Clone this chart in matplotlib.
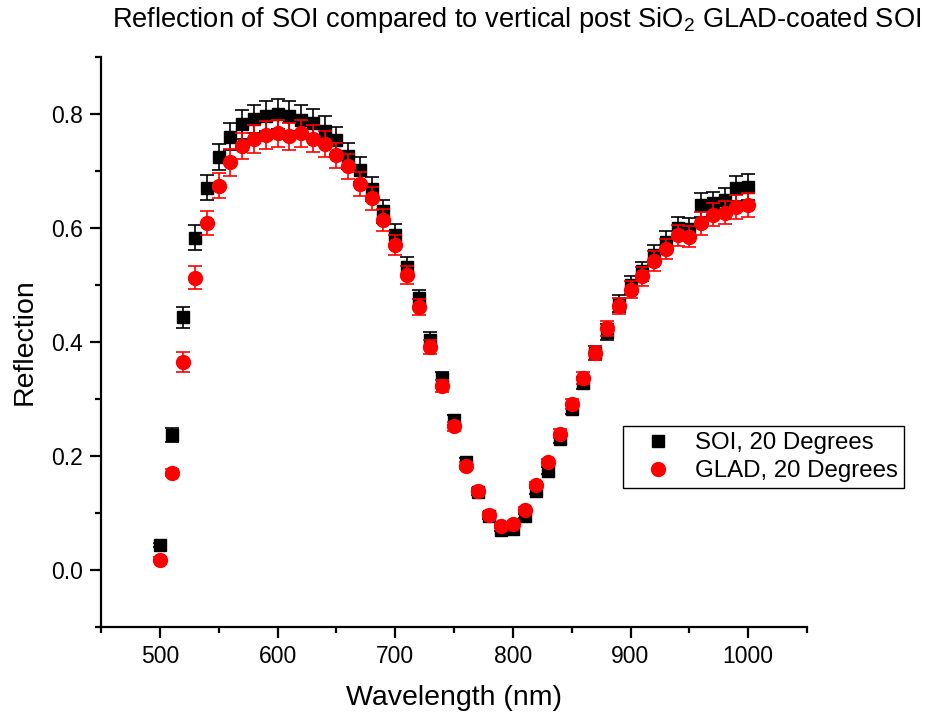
import matplotlib
matplotlib.use('Agg')
import matplotlib.pyplot as plt
from matplotlib.lines import Line2D

plt.rcParams['font.family'] = ['Liberation Sans', 'DejaVu Sans']
plt.rcParams['mathtext.default'] = 'regular'

# ── data ───────────────────────────────────────────────────────────────────
wavelength = [500, 510, 520, 530, 540, 550, 560, 570, 580, 590,
              600, 610, 620, 630, 640, 650, 660, 670, 680, 690,
              700, 710, 720, 730, 740, 750, 760, 770, 780, 790,
              800, 810, 820, 830, 840, 850, 860, 870, 880, 890,
              900, 910, 920, 930, 940, 950, 960, 970, 980, 990, 1000]

soi = [0.044, 0.237, 0.443, 0.583, 0.671, 0.724, 0.760, 0.782, 0.791, 0.796,
       0.800, 0.797, 0.790, 0.784, 0.771, 0.754, 0.727, 0.702, 0.669, 0.629,
       0.588, 0.532, 0.477, 0.404, 0.336, 0.263, 0.190, 0.137, 0.094, 0.071,
       0.072, 0.095, 0.138, 0.174, 0.230, 0.283, 0.328, 0.381, 0.417, 0.467,
       0.500, 0.524, 0.553, 0.576, 0.600, 0.598, 0.640, 0.643, 0.650, 0.670, 0.672]

soi_err = [0.004, 0.013, 0.019, 0.022, 0.022, 0.023, 0.024, 0.025, 0.025, 0.026,
           0.026, 0.026, 0.025, 0.025, 0.025, 0.024, 0.023, 0.022, 0.021, 0.020,
           0.019, 0.017, 0.015, 0.013, 0.011, 0.009, 0.007, 0.005, 0.004, 0.003,
           0.003, 0.004, 0.005, 0.006, 0.008, 0.009, 0.011, 0.012, 0.014, 0.015,
           0.016, 0.017, 0.018, 0.019, 0.020, 0.020, 0.021, 0.021, 0.021, 0.022, 0.022]

glad = [0.018, 0.171, 0.365, 0.513, 0.608, 0.674, 0.715, 0.744, 0.756, 0.763,
        0.766, 0.761, 0.766, 0.757, 0.748, 0.728, 0.708, 0.678, 0.652, 0.614,
        0.570, 0.518, 0.461, 0.391, 0.323, 0.252, 0.183, 0.138, 0.097, 0.078,
        0.081, 0.106, 0.150, 0.189, 0.239, 0.291, 0.337, 0.381, 0.424, 0.463,
        0.492, 0.515, 0.542, 0.563, 0.587, 0.585, 0.608, 0.623, 0.627, 0.637, 0.640]

glad_err = [0.004, 0.006, 0.017, 0.020, 0.021, 0.022, 0.023, 0.023, 0.024, 0.024,
            0.024, 0.024, 0.024, 0.023, 0.023, 0.022, 0.022, 0.021, 0.020, 0.019,
            0.018, 0.016, 0.014, 0.012, 0.010, 0.008, 0.006, 0.005, 0.004, 0.003,
            0.003, 0.004, 0.005, 0.006, 0.008, 0.009, 0.011, 0.012, 0.013, 0.014,
            0.015, 0.016, 0.017, 0.018, 0.019, 0.019, 0.020, 0.020, 0.020, 0.021, 0.021]

labels = ['SOI, 20 Degrees', 'GLAD, 20 Degrees']

# ── figure ─────────────────────────────────────────────────────────────────
fig = plt.figure(figsize=(9.25, 7.15), dpi=100)
ax = fig.add_axes([101/925, 1-627/715, 706/925, 570/715])

ax.errorbar(wavelength, soi, yerr=soi_err, fmt='s', color='black', ms=8.8,
            ecolor='black', elinewidth=1.2, capsize=5, capthick=1.2, zorder=2)
ax.errorbar(wavelength, glad, yerr=glad_err, fmt='o', color='red', ms=10,
            ecolor='red', elinewidth=1.2, capsize=5, capthick=1.2, zorder=3)

ax.set_xlim(450, 1050)
ax.set_ylim(-0.1, 0.9)
ax.set_xticks([500, 600, 700, 800, 900, 1000])
ax.set_xticks([450, 550, 650, 750, 850, 950, 1050], minor=True)
ax.set_yticks([0.0, 0.2, 0.4, 0.6, 0.8])
ax.set_yticks([-0.1, 0.1, 0.3, 0.5, 0.7, 0.9], minor=True)
ax.yaxis.set_major_formatter(matplotlib.ticker.FormatStrFormatter('%.1f'))

for side in ['top', 'right']:
    ax.spines[side].set_visible(False)
for side in ['left', 'bottom']:
    ax.spines[side].set_linewidth(1.6)

ax.tick_params(which='major', direction='out', length=8, width=1.6,
               labelsize=16.5, pad=5)
ax.tick_params(which='minor', direction='out', length=4.5, width=1.6)

ax.set_xlabel('Wavelength (nm)', fontsize=20.5, labelpad=12)
ax.set_ylabel('Reflection', fontsize=20.5, labelpad=10)

fig.text(517/925, 1-20/715,
         r'Reflection of SOI compared to vertical post SiO$_2$ GLAD-coated SOI',
         ha='center', va='center', fontsize=19.6)

handles = [Line2D([], [], ls='none', marker='s', color='black', ms=8.8),
           Line2D([], [], ls='none', marker='o', color='red', ms=10)]
leg = ax.legend(handles, labels, loc='upper left',
                bbox_to_anchor=(623/925, 1-426/715), bbox_transform=fig.transFigure,
                borderaxespad=0, fontsize=17.3, frameon=True, fancybox=False,
                edgecolor='black', framealpha=1, borderpad=0.25, labelspacing=0.25,
                handlelength=2.45, handletextpad=0.3, numpoints=1)
leg.get_frame().set_linewidth(1.0)

fig.savefig('out.png', dpi=100)
